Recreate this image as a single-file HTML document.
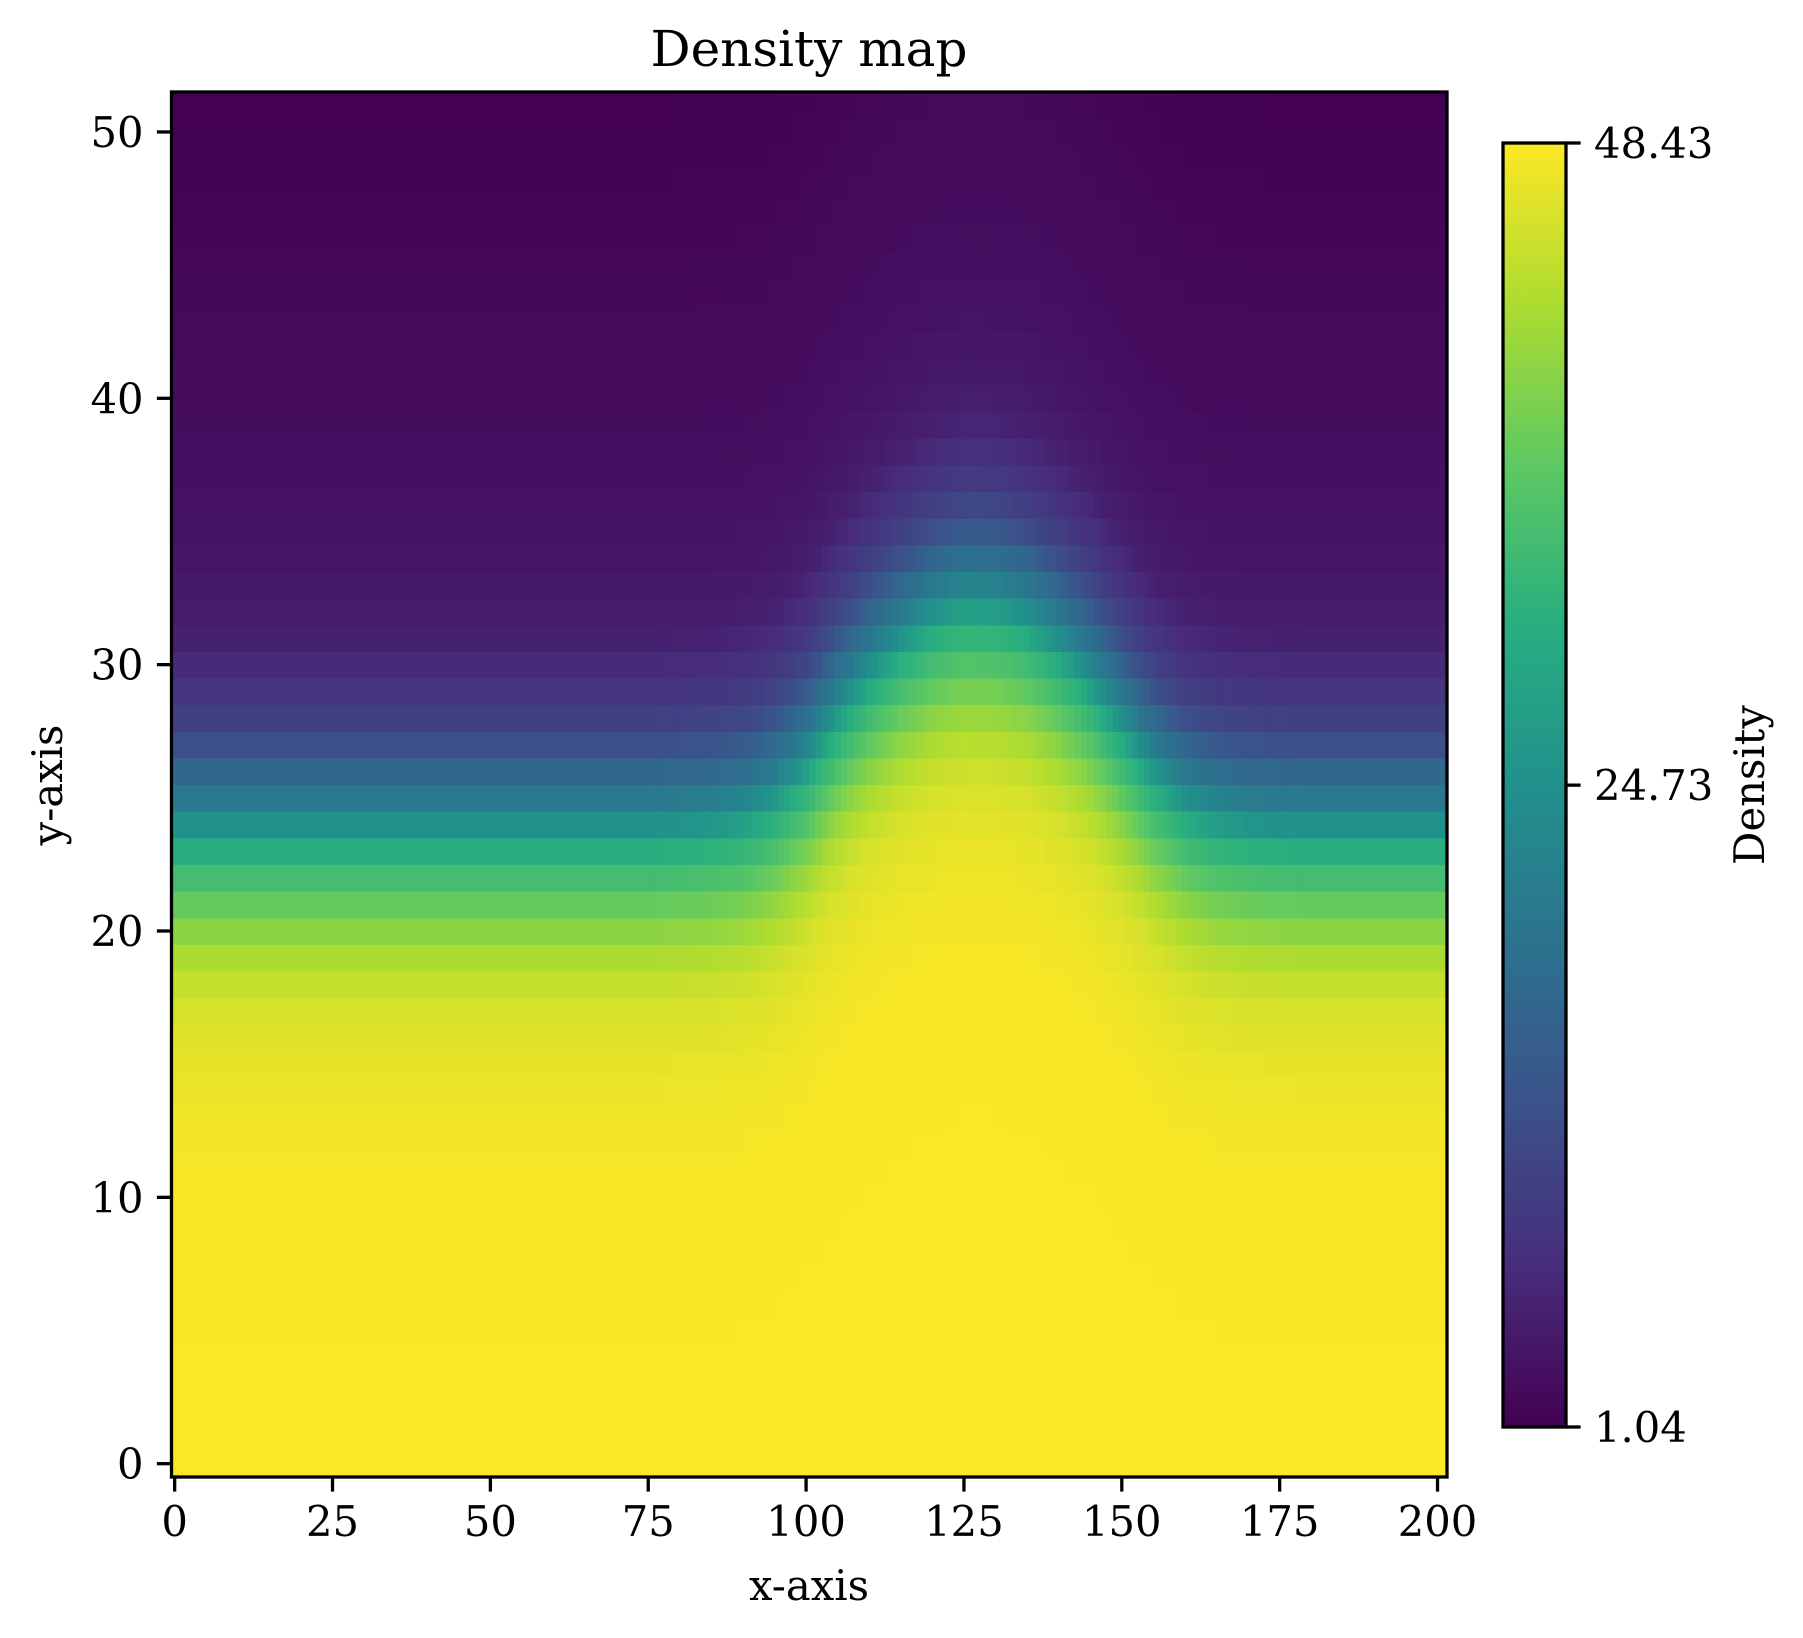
<!DOCTYPE html>
<html><head><meta charset="utf-8"><style>
html,body{margin:0;padding:0;background:#fff}
svg{display:block}
text{font-family:"DejaVu Serif","Liberation Serif",serif;fill:#000}
</style></head><body>
<svg id="fig" width="1803" height="1638" viewBox="0 0 1803 1638">
<defs>
<linearGradient id="vir" x1="0" y1="1" x2="0" y2="0">
<stop offset="0" stop-color="#440154"/><stop offset="0.125" stop-color="#472d7b"/><stop offset="0.25" stop-color="#3b528b"/><stop offset="0.375" stop-color="#2c728e"/><stop offset="0.5" stop-color="#21918c"/><stop offset="0.625" stop-color="#28ae80"/><stop offset="0.75" stop-color="#5ec962"/><stop offset="0.875" stop-color="#addc30"/><stop offset="1" stop-color="#fde725"/>
</linearGradient>
</defs>
<text x="809" y="66" font-size="50" text-anchor="middle">Density map</text>
<g id="heat" shape-rendering="crispEdges"></g>
<g id="axes"></g>
<rect x="1503" y="143" width="63" height="1284" fill="url(#vir)" stroke="#000" stroke-width="3.3"/>
<g id="cbar"></g>
<text x="809" y="1600" font-size="41.7" text-anchor="middle">x-axis</text>
<text transform="translate(62,785) rotate(-90)" font-size="41.7" text-anchor="middle">y-axis</text>
<text transform="translate(1764,785) rotate(-90)" font-size="41.7" text-anchor="middle">Density</text>
</svg>
<script>
// density profile along y at the plot edges (rows y = 0..51)
const rowEdge = [48.3,48.3,48.25,48.2,48.2,48.15,48.1,48.1,48.05,48.0,47.95,47.9,47.7,47.5,47.2,46.8,46.3,45.6,44.2,42.5,40,37,33.7,30.7,24.7,20,16.7,12.4,10,8.1,6.7,5.3,4.6,4.1,3.7,3.4,3.2,3.0,2.8,2.6,2.5,2.4,2.3,2.2,2.0,1.9,1.7,1.6,1.4,1.3,1.2,1.1];
// upward shift of the profile (in rows), sampled every 5 columns (x = 0..200)
const colShift = [0,0,0,0,0,0,0,0,0,0,0,0,0,0,0,0,0.1,0.2,0.5,1.2,2.5,4.4,5.9,7.1,8.0,8.5,8.4,7.9,6.9,5.6,3.9,2.2,1.0,0.4,0.15,0.05,0,0,0,0,0];
const xTicks = [0,25,50,75,100,125,150,175,200];
const yTicks = [0,10,20,30,40,50];
const cbTicks = [1.04,24.73,48.43];
const vmin = 1.04, vmax = 48.43;
const nCols = 202, nRows = 52;

const L=171.5,R=1447,T=92,B=1477;
const sx = v => L + (v+0.5)*(R-L)/nCols;
const sy = v => B - (v+0.5)*(B-T)/nRows;
const cbY = v => 1427 - (v-vmin)/(vmax-vmin)*(1427-143);
const NS="http://www.w3.org/2000/svg";
const vir=[[68,1,84],[71,45,123],[59,82,139],[44,114,142],[33,145,140],[40,174,128],[94,201,98],[173,220,48],[253,231,37]];
function cmap(v){let t=Math.max(0,Math.min(1,(v-vmin)/(vmax-vmin)))*8;let i=Math.min(7,Math.floor(t));let f=t-i;
 const c=vir[i].map((a,k)=>Math.round(a+(vir[i+1][k]-a)*f));return `rgb(${c[0]},${c[1]},${c[2]})`;}
function shift(x){const p=x/5;const i=Math.min(colShift.length-2,Math.floor(p));const f=p-i;return colShift[i]+(colShift[i+1]-colShift[i])*f;}
function profile(r){if(r<=0)return rowEdge[0];if(r>=rowEdge.length-1)return rowEdge[rowEdge.length-1];const i=Math.floor(r),f=r-i;return rowEdge[i]+(rowEdge[i+1]-rowEdge[i])*f;}
const heat=document.getElementById('heat');
const cw=(R-L)/nCols, ch=(B-T)/nRows;
for(let r=0;r<nRows;r++){for(let c=0;c<nCols;c++){
 const v=profile(r-shift(c));
 const el=document.createElementNS(NS,'rect');
 el.setAttribute('x',(sx(c)-cw/2).toFixed(2));el.setAttribute('y',(sy(r)-ch/2).toFixed(2));
 el.setAttribute('width',(cw+0.6).toFixed(2));el.setAttribute('height',(ch+0.6).toFixed(2));
 el.setAttribute('fill',cmap(v));
 
 
 heat.appendChild(el);}}
const ax=document.getElementById('axes');
function add(tag,attrs,parent,txt){const e=document.createElementNS(NS,tag);for(const k in attrs)e.setAttribute(k,attrs[k]);if(txt!==undefined)e.textContent=txt;parent.appendChild(e);return e;}
const frame=add('rect',{x:L,y:T,width:R-L,height:B-T,fill:'none',stroke:'#000','stroke-width':3.3},ax);


xTicks.forEach(v=>{const x=sx(v);
 const t=add('line',{x1:x,x2:x,y1:B,y2:B+14.6,stroke:'#000','stroke-width':3.3},ax);
 
 
 const l=add('text',{x:x,y:B+59,'font-size':41.7,'text-anchor':'middle'},ax,String(v));
 
 });
yTicks.forEach(v=>{const y=sy(v);
 const t=add('line',{x1:L-14.6,x2:L,y1:y,y2:y,stroke:'#000','stroke-width':3.3},ax);
 
 
 const l=add('text',{x:L-28,y:y+15,'font-size':41.7,'text-anchor':'end'},ax,String(v));
 
 });
const cb=document.getElementById('cbar');
cbTicks.forEach(v=>{const y=cbY(v);
 const t=add('line',{x1:1566,x2:1580.6,y1:y,y2:y,stroke:'#000','stroke-width':3.3},cb);
 
 
 const l=add('text',{x:1594,y:y+15,'font-size':41.7},cb,v.toFixed(2));
 
 });
</script>
</body></html>
